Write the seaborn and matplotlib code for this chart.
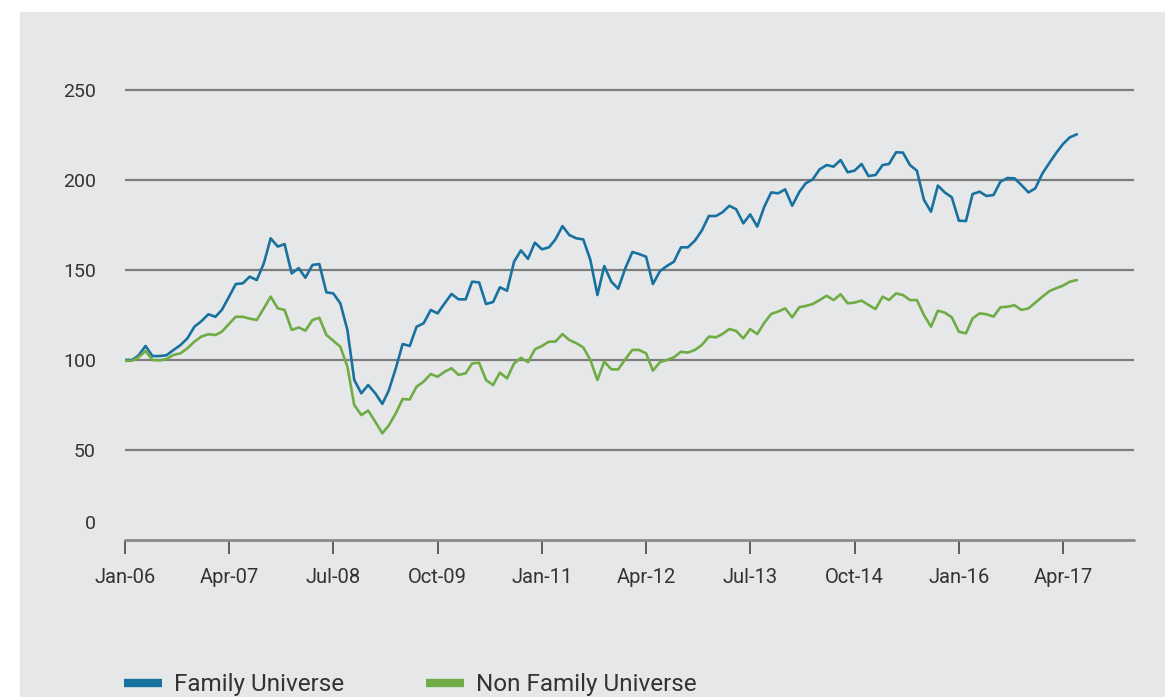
import matplotlib
matplotlib.use("Agg")
import matplotlib.pyplot as plt
from matplotlib.patches import Rectangle
import numpy as np
import pandas as pd
import seaborn as sns

# index values, monthly from Jan-06
family = [100, 100, 102.5, 107.8, 102.2, 102.2, 102.6, 105.5, 108.3, 112,
          118.5, 121.5, 125.4, 124, 127.8, 135, 142.2, 142.6, 146.3, 144.4,
          153.7, 167.6, 163, 164.4, 148.1, 151, 145.7, 152.8, 153.3, 137.6,
          137, 131.5, 116.7, 88.9, 81.5, 86.1, 81.5, 75.6, 83, 95.4,
          108.9, 107.8, 118.5, 120.4, 127.8, 125.9, 131.5, 136.7, 133.7, 133.7,
          143.5, 143.1, 131.1, 132.2, 140.4, 138.5, 154.6, 160.9, 156.2, 165.2,
          161.5, 162.6, 167, 174.4, 169.4, 167.6, 167, 155.6, 136.1, 152.2,
          143.5, 139.6, 150.9, 160, 158.9, 157.4, 142.2, 149.4, 152.2, 154.6,
          162.6, 162.6, 166.3, 171.9, 180, 180, 182, 185.7, 183.7, 175.9,
          180.9, 174.1, 185.2, 193.1, 192.6, 194.8, 185.7, 193.3, 198.1, 200.4,
          205.9, 208.3, 207.4, 211.1, 204.3, 205.2, 208.9, 202.2, 202.8, 208.3,
          208.9, 215.4, 215.2, 208.3, 205.2, 189, 182.4, 196.9, 193, 190.4,
          177.4, 177.2, 192.2, 193.5, 191.1, 191.7, 199.1, 201.1, 200.9, 197.2,
          193.1, 195.4, 203.7, 209.6, 214.8, 220, 223.7, 225.4]

non_family = [99.5, 99.6, 101.5, 105, 100, 99.8, 100.5, 102.8, 103.7, 106.5,
              110.2, 113, 114.3, 113.9, 115.7, 120, 124, 124, 123, 122.2,
              128.7, 135.2, 128.7, 127.8, 116.7, 118.1, 116.3, 122.2, 123.5, 113.9,
              110.7, 107.4, 96.3, 75, 69.4, 71.9, 65.7, 59.3, 63.6, 70.4,
              78.3, 78.1, 85.2, 88, 92.2, 90.7, 93.5, 95.4, 91.7, 92.6,
              98.1, 98.5, 88.9, 86.1, 93, 89.8, 98.1, 101.2, 98.8, 105.9,
              107.8, 110.2, 110.2, 114.4, 111.1, 109.3, 107, 100, 88.9, 99.1,
              94.8, 94.8, 100.4, 105.6, 105.6, 103.7, 94.1, 98.8, 100, 101.5,
              104.6, 104.1, 105.6, 108.3, 113, 112.6, 114.4, 117.2, 116.1, 112,
              117.2, 114.4, 120.7, 125.6, 126.9, 128.7, 123.7, 129.3, 130, 131.1,
              133.3, 135.7, 133.3, 136.5, 131.5, 131.9, 133, 130.6, 128.3, 135.2,
              133.3, 137, 136.1, 133.3, 133.3, 125, 118.5, 127.4, 126.3, 123.7,
              115.7, 114.8, 123.1, 125.9, 125.4, 124.1, 129.3, 129.6, 130.4, 127.8,
              128.7, 131.9, 135.2, 138.3, 139.8, 141.3, 143.5, 144.4]

series_names = ["Family Universe", "Non Family Universe"]
tick_labels = ["Jan-06", "Apr-07", "Jul-08", "Oct-09", "Jan-11",
               "Apr-12", "Jul-13", "Oct-14", "Jan-16", "Apr-17"]
y_ticks = [50, 100, 150, 200, 250]

months = pd.date_range("2006-01-01", periods=len(family), freq="MS")
df = pd.DataFrame({"date": list(months) * 2,
                   "value": family + non_family,
                   "series": [series_names[0]] * len(family) + [series_names[1]] * len(non_family)})

sns.set_theme(style="white")
plt.rcParams['font.family'] = ['Roboto', 'DejaVu Sans']

bg = "#e6e7e9"
fig = plt.figure(figsize=(11.65, 6.97), dpi=100, facecolor="white")
fig.patches.append(Rectangle((20 / 1165, 0), 1, (697 - 12) / 697,
                             transform=fig.transFigure, color=bg, zorder=-10))

ax = fig.add_axes([125 / 1165, 157 / 697, (1134 - 125) / 1165, 468 / 697])
ax.set_facecolor("none")
ax.set_zorder(1)

sns.lineplot(data=df, x="date", y="value", hue="series",
             palette=["#18729f", "#6fac46"], linewidth=1.9, ax=ax, zorder=3)

ax.set_ylim(0, 260)
ax.set_xlim(pd.Timestamp("2006-01-01"), pd.Timestamp("2018-02-06"))

for v in y_ticks:
    ax.axhline(v, color="#7d7d7d", lw=1.6, zorder=1)
ax.axhline(0, color="#8a8a8a", lw=2.0, zorder=1, clip_on=False)

tick_pos = pd.date_range("2006-01-01", periods=len(tick_labels), freq="15MS")
ax.set_xticks(tick_pos)
ax.set_xticklabels(tick_labels)
ax.set_yticks(y_ticks)
ax.set_yticklabels([str(v) for v in y_ticks])
ax.tick_params(axis="x", length=10, width=1.2, color="#444444", pad=10,
               labelsize=14.5, labelcolor="#333333", direction="out", bottom=True)
ax.tick_params(axis="y", length=0, pad=21, labelsize=14, labelcolor="#333333")
ax.text(-29 / 1009, 9, "0", transform=ax.get_yaxis_transform(), ha="right",
        va="center", fontsize=14, color="#333333")

for s in ax.spines.values():
    s.set_visible(False)
ax.set_xlabel("")
ax.set_ylabel("")

handles, labels = ax.get_legend_handles_labels()
ax.get_legend().remove()
leg = fig.legend(handles, labels, loc="lower left", bbox_to_anchor=(102 / 1165, -0.03),
                 ncol=2, frameon=False, fontsize=17.5, handlelength=1.55,
                 handletextpad=0.5, columnspacing=3.4)
for h in leg.legend_handles:
    h.set_linewidth(6)
    h.set_solid_capstyle("butt")
for t in leg.get_texts():
    t.set_color("#333333")

fig.savefig("out.png", dpi=100, facecolor="white")
